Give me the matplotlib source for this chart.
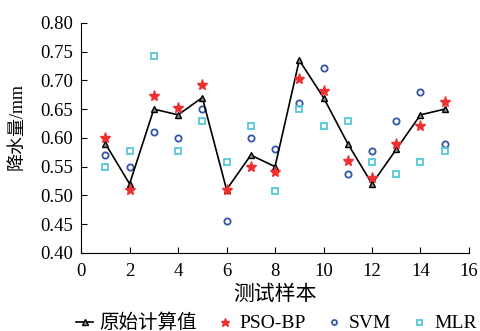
import numpy as np
import matplotlib
matplotlib.use("Agg")
import matplotlib.pyplot as plt

plt.rcParams['font.family'] = ['Liberation Serif', 'Noto Sans CJK SC']
plt.rcParams['axes.unicode_minus'] = False

# dados
amostras = np.arange(1, 16)
original = [0.59, 0.52, 0.65, 0.64, 0.67, 0.51, 0.57, 0.55, 0.735, 0.67, 0.59, 0.52, 0.58, 0.64, 0.65]
pso_bp = [0.60, 0.51, 0.672, 0.652, 0.692, 0.51, 0.55, 0.54, 0.702, 0.682, 0.56, 0.53, 0.59, 0.62, 0.662]
svm = [0.57, 0.55, 0.61, 0.60, 0.65, 0.455, 0.60, 0.58, 0.66, 0.722, 0.538, 0.578, 0.63, 0.68, 0.59]
mlr = [0.55, 0.578, 0.742, 0.578, 0.63, 0.558, 0.62, 0.508, 0.65, 0.62, 0.63, 0.558, 0.538, 0.558, 0.578]
yticks = [0.40, 0.45, 0.50, 0.55, 0.60, 0.65, 0.70, 0.75, 0.80]

fig = plt.figure(figsize=(4.8, 3.31), dpi=100)
ax = fig.add_axes([0.169, 0.236, 0.808, 0.695])

ax.plot(amostras, original, color='black', lw=1.2, marker='^', ms=5,
        mfc='#888888', mec='black', mew=1.0, label='原始计算值', zorder=3)
ax.plot(amostras, pso_bp, ls='none', marker='*', ms=8, color='#f03030',
        label='PSO-BP', zorder=4)
ax.plot(amostras, svm, ls='none', marker='o', ms=4.5, mfc='none', mec='#3355aa',
        mew=1.3, label='SVM', zorder=2)
ax.plot(amostras, mlr, ls='none', marker='s', ms=4.5, mfc='none', mec='#55c8d8',
        mew=1.3, label='MLR', zorder=2)

ax.set_xlim(0, 16)
ax.set_ylim(0.40, 0.80)
ax.set_xticks(np.arange(0, 17, 2))
ax.set_yticks(yticks)
ax.set_yticklabels([f"{v:.2f}" for v in yticks])
ax.tick_params(direction='in', labelsize=13.5, length=4, pad=6)
ax.tick_params(axis='x', pad=7)
for s in ('top', 'right'):
    ax.spines[s].set_visible(False)

ax.set_xlabel('测试样本', fontsize=15, va='center')
ax.xaxis.set_label_coords(0.5, -0.183)
ax.set_ylabel('降水量/mm', fontsize=13, va='center')
ax.yaxis.set_label_coords(-0.165, 0.55)

ax.legend(loc='center', bbox_to_anchor=(0.503, -0.305), ncol=4, frameon=False,
          fontsize=14, handlelength=0.9, handletextpad=0.3, columnspacing=1.0,
          markerscale=0.8, borderaxespad=0, borderpad=0)

fig.savefig('out.png', dpi=100)
